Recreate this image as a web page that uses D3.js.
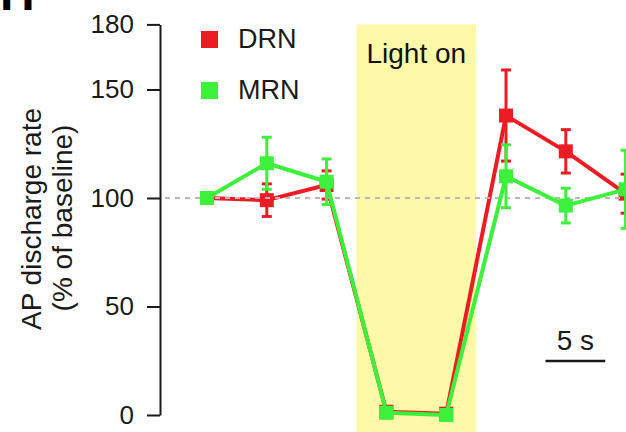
<!DOCTYPE html>
<html>
<head>
<meta charset="utf-8">
<script src="https://cdn.jsdelivr.net/npm/d3@7"></script>
<style>
  html, body { margin: 0; padding: 0; background: #fff; }
  svg { display: block; font-family: "Liberation Sans", Arial, Helvetica, sans-serif; }
</style>
</head>
<body>
<svg id="chart" width="626" height="432"></svg>
<script>
// Time bins (s) and firing rate as % of baseline, mean and error
const times   = [0, 5, 10, 15, 20, 25, 30, 35];
const drnMean = [100, 99, 106, 1.5, 0.6, 138, 121.5, 102];
const drnErr  = [0, 7.5, 6.5, 0, 0, 21, 10, 9];
const mrnMean = [100, 116, 107.5, 1, 0, 110, 96.5, 104];
const mrnErr  = [0, 12, 10.5, 0, 0, 14.5, 8, 18];
const yTicks  = [0, 50, 100, 150, 180];
const lightOn = [12.5, 22.5];     // stimulation window (s)
const scaleBar = [28.3, 33.3];    // 5 s bar
const baseline = 100;

const series = [
  { name: "DRN", color: "#ec1c24", mean: drnMean, err: drnErr },
  { name: "MRN", color: "#3cf03c", mean: mrnMean, err: mrnErr }
];

const svg = d3.select("#chart");
const W = 626, H = 432;

const x = d3.scaleLinear().domain([0, 35]).range([207, 625.6]);
const y = d3.scaleLinear().domain([0, 180]).range([415, 24.4]);

// Light-on shading
svg.append("rect")
  .attr("x", x(lightOn[0]))
  .attr("y", y(180))
  .attr("width", x(lightOn[1]) - x(lightOn[0]))
  .attr("height", H - y(180))
  .attr("fill", "#fdf9a9");

svg.append("text")
  .attr("x", (x(lightOn[0]) + x(lightOn[1])) / 2)
  .attr("y", 63)
  .attr("text-anchor", "middle")
  .attr("font-size", 28)
  .attr("fill", "#111")
  .text("Light on");

function drawSeries(s) {
  const g = svg.append("g");
  const pts = times.map((t, i) => ({ t, m: s.mean[i], e: s.err[i] }));
  g.append("path")
    .datum(pts)
    .attr("fill", "none")
    .attr("stroke", s.color)
    .attr("stroke-width", 4)
    .attr("stroke-linejoin", "round")
    .attr("d", d3.line().x(d => x(d.t)).y(d => y(d.m)));
  const eb = g.selectAll(".eb").data(pts.filter(d => d.e > 0)).join("g");
  eb.append("line")
    .attr("x1", d => x(d.t)).attr("x2", d => x(d.t))
    .attr("y1", d => y(d.m - d.e)).attr("y2", d => y(d.m + d.e))
    .attr("stroke", s.color).attr("stroke-width", 3);
  [-1, 1].forEach(sign => {
    eb.append("line")
      .attr("x1", d => x(d.t) - 5).attr("x2", d => x(d.t) + 5)
      .attr("y1", d => y(d.m + sign * d.e)).attr("y2", d => y(d.m + sign * d.e))
      .attr("stroke", s.color).attr("stroke-width", 3);
  });
  g.selectAll(".pt").data(pts).join("rect")
    .attr("x", d => x(d.t) - 7)
    .attr("y", d => y(d.m) - 7)
    .attr("width", 14).attr("height", 14)
    .attr("fill", s.color);
}

drawSeries(series[0]);

// Baseline reference
svg.append("line")
  .attr("x1", 165).attr("x2", W)
  .attr("y1", y(baseline)).attr("y2", y(baseline))
  .attr("stroke", "#b8b8b8")
  .attr("stroke-width", 2)
  .attr("stroke-dasharray", "5,5");

drawSeries(series[1]);

// Y axis
const yAxis = svg.append("g")
  .attr("transform", "translate(160,0)")
  .call(d3.axisLeft(y).tickValues(yTicks).tickSize(13).tickSizeOuter(0).tickPadding(13));
yAxis.select(".domain").attr("stroke", "#1a1a1a").attr("stroke-width", 2);
yAxis.selectAll(".tick line").attr("stroke", "#1a1a1a").attr("stroke-width", 2);
yAxis.selectAll(".tick text")
  .attr("font-size", 26)
  .attr("font-family", "'Liberation Sans', Arial, sans-serif")
  .attr("fill", "#1a1a1a");

// Y axis title
const yTitle = svg.append("g")
  .attr("font-size", 28)
  .attr("fill", "#1a1a1a")
  .attr("text-anchor", "middle");
yTitle.append("text")
  .attr("transform", "translate(41,219) rotate(-90)")
  .text("AP discharge rate");
yTitle.append("text")
  .attr("transform", "translate(72,218) rotate(-90)")
  .text("(% of baseline)");

// Legend
const legend = svg.append("g");
series.forEach((s, i) => {
  const ly = 31 + i * 51;
  legend.append("rect")
    .attr("x", 201).attr("y", ly).attr("width", 17).attr("height", 17)
    .attr("fill", s.color);
  legend.append("text")
    .attr("x", 238).attr("y", ly + 17)
    .attr("font-size", 27)
    .attr("fill", "#1a1a1a")
    .text(s.name);
});

// Time scale bar
svg.append("line")
  .attr("x1", x(scaleBar[0])).attr("x2", x(scaleBar[1]))
  .attr("y1", 361).attr("y2", 361)
  .attr("stroke", "#1a1a1a").attr("stroke-width", 2.5);
svg.append("text")
  .attr("x", (x(scaleBar[0]) + x(scaleBar[1])) / 2)
  .attr("y", 350)
  .attr("text-anchor", "middle")
  .attr("font-size", 28)
  .attr("fill", "#1a1a1a")
  .text("5 s");

// Panel letter
svg.append("text")
  .attr("x", 0).attr("y", 10)
  .attr("font-size", 48)
  .attr("font-weight", "bold")
  .attr("fill", "#000")
  .text("H");
</script>
</body>
</html>
